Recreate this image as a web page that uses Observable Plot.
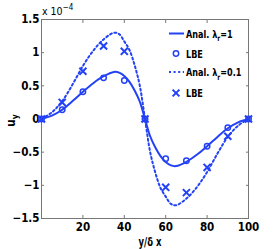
<!DOCTYPE html>
<html><head><meta charset="utf-8">
<script src="https://cdn.jsdelivr.net/npm/d3@7"></script>
<script src="https://cdn.jsdelivr.net/npm/@observablehq/plot@0.6"></script>
<style>
body{margin:0;background:#fff}
#c{position:relative;width:274px;height:249px}
</style>
</head><body><div id="c"></div>
<script>
// analytic curves (values ×1e-4)
const analX = [0,5,10,15,20,25,30,35,37.5,40,42.5,45,47.5,50,52.5,55,57.5,60,62.5,65,70,75,80,85,90,95,100];
const analLam1 = [0,0.05,0.14,0.27,0.41,0.54,0.645,0.71,0.70,0.65,0.56,0.43,0.26,0,-0.26,-0.43,-0.56,-0.65,-0.70,-0.71,-0.645,-0.54,-0.41,-0.27,-0.14,-0.05,0];
const analLam01 = [0,0.10,0.27,0.52,0.80,1.03,1.20,1.30,1.28,1.17,1.04,0.81,0.50,0,-0.50,-0.81,-1.04,-1.17,-1.28,-1.30,-1.20,-1.03,-0.80,-0.52,-0.27,-0.10,0];
// LBE samples
const lbeX = [0,10,20,30,40,50,60,70,80,90,100];
const lbeLam1 = [0,0.14,0.41,0.62,0.58,0,-0.60,-0.63,-0.41,-0.13,0];
const lbeLam01 = [0,0.25,0.72,1.10,1.02,0,-1.03,-1.11,-0.73,-0.26,0];
// ticks
const xTicks = [20,40,60,80,100];
const yTicks = [-1.5,-1,-0.5,0,0.5,1,1.5];
const yTickLabels = ["\u22121.5","\u22121","\u22120.5","0","0.5","1","1.5"];
const legendNames = [["Anal. \u03bb","r","=1"],["LBE"],["Anal. \u03bb","r","=0.1"],["LBE"]];

const blue = "#2341f5";
const axisColor = "#777";
const dash = "2,2.6";
const font = "'Liberation Sans Narrow','DejaVu Sans Condensed',sans-serif";

const anal1 = analX.map((x,i)=>({x, y: analLam1[i]}));
const anal01 = analX.map((x,i)=>({x, y: analLam01[i]}));
const lbe1 = lbeX.map((x,i)=>({x, y: lbeLam1[i]}));
const lbe01 = lbeX.map((x,i)=>({x, y: lbeLam01[i]}));

const W = 274, H = 249, mL = 41, mR = 26, mT = 19, mB = 31;

const plot = Plot.plot({
  width: W, height: H,
  marginLeft: mL, marginRight: mR, marginTop: mT, marginBottom: mB,
  style: {fontFamily: font, fontWeight: "bold", fontSize: "11.5px", color: "#000", background: "#fff"},
  x: {domain: [0,100]},
  y: {domain: [-1.5,1.5]},
  marks: [
    Plot.frame({stroke: axisColor}),
    Plot.axisX(xTicks, {anchor: "bottom", tickSize: 3, dy: -3, tickPadding: 4, stroke: axisColor, fill: "#000", label: null}),
    Plot.axisX(xTicks, {anchor: "top", tickSize: 3, dy: 3, tickFormat: () => "", stroke: axisColor, label: null}),
    Plot.axisY(yTicks, {anchor: "left", tickSize: 3, dx: 3, tickPadding: 2, stroke: axisColor, fill: "#000", label: null,
      tickFormat: (d) => yTickLabels[yTicks.indexOf(d)]}),
    Plot.axisY(yTicks, {anchor: "right", tickSize: 3, dx: -3, tickFormat: () => "", stroke: axisColor, label: null}),
    Plot.line(anal01, {x: "x", y: "y", stroke: blue, strokeWidth: 2, strokeDasharray: dash, curve: "catmull-rom"}),
    Plot.line(anal1, {x: "x", y: "y", stroke: blue, strokeWidth: 2, curve: "catmull-rom"}),
    Plot.dot(lbe1, {x: "x", y: "y", r: 2.7, stroke: blue, strokeWidth: 1.5, fill: "none"}),
    Plot.dot(lbe01, {x: "x", y: "y", r: 3.3, symbol: "times", stroke: blue, strokeWidth: 2})
  ]
});
document.getElementById("c").appendChild(plot);

const svg = d3.select(plot);
const frameRight = W - mR;

// exponent label
const ex = svg.append("text").attr("x", mL + 1).attr("y", 15).attr("text-anchor", "start")
  .style("font-family", font).style("font-size", "10.5px").style("font-weight", "normal").attr("fill", "#000");
ex.append("tspan").text("x 10");
ex.append("tspan").attr("dy", -5).style("font-size", "8px").text("\u22124");

// y label
const yl = svg.append("text").attr("transform", `translate(15,${(mT + H - mB)/2 + 2}) rotate(-90)`)
  .attr("text-anchor", "middle").style("font-family", font).style("font-size", "11.5px").style("font-weight", "bold");
yl.append("tspan").text("u");
yl.append("tspan").attr("dy", 3).style("font-size", "8.5px").text("y");

// x label
svg.append("text").attr("transform", "translate(150,246) scale(0.82,1)").attr("text-anchor", "middle")
  .style("font-family", font).style("font-size", "11.5px").style("font-weight", "bold").text("y/\u03b4 x");

// legend
const lg = svg.append("g");
const rowsY = [33.5, 53.5, 72, 93];
const lx0 = frameRight - 79, lx1 = frameRight - 64, mx = frameRight - 72, tx = frameRight - 62;
rowsY.forEach((cy, i) => {
  if (i === 0 || i === 2) {
    lg.append("line").attr("x1", lx0).attr("x2", lx1).attr("y1", cy).attr("y2", cy)
      .attr("stroke", blue).attr("stroke-width", 2).attr("stroke-dasharray", i === 2 ? dash : null);
  } else if (i === 1) {
    lg.append("circle").attr("cx", mx).attr("cy", cy).attr("r", 2.7).attr("fill", "none").attr("stroke", blue).attr("stroke-width", 1.5);
  } else {
    const s = 3.4;
    lg.append("path").attr("d", `M${mx-s},${cy-s}L${mx+s},${cy+s}M${mx-s},${cy+s}L${mx+s},${cy-s}`).attr("stroke", blue).attr("stroke-width", 2).attr("fill", "none");
  }
  const t = lg.append("text").attr("transform", `translate(${tx},${cy + 4}) scale(0.82,1)`).attr("text-anchor", "start")
    .style("font-family", font).style("font-size", "11px").style("font-weight", "bold");
  const parts = legendNames[i];
  t.append("tspan").text(parts[0]);
  if (parts.length > 1) {
    t.append("tspan").attr("dy", 3.5).style("font-size", "8px").text(parts[1]);
    t.append("tspan").attr("dy", -3.5).text(parts[2]);
  }
});
</script>
</body></html>
